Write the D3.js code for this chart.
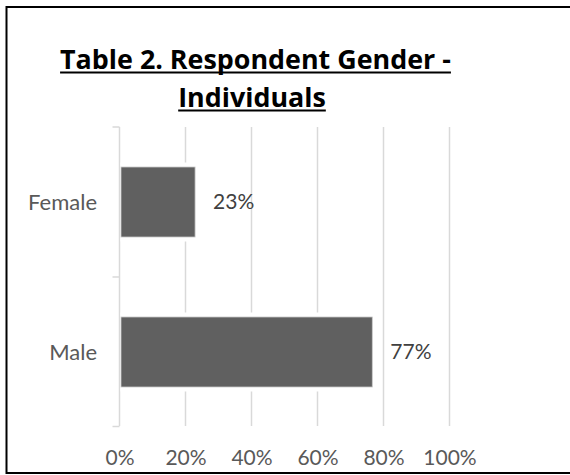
<!DOCTYPE html>
<html>
<head>
<meta charset="utf-8">
<script src="https://cdn.jsdelivr.net/npm/d3@7"></script>
<style>
  html, body { margin: 0; padding: 0; background: #fff; }
  svg { display: block; }
</style>
</head>
<body>
<svg id="chart" width="570" height="475"></svg>
<script>
// ---- data ----
const titleLines = ["Table 2. Respondent Gender -", "Individuals"];
const categories = ["Female", "Male"];
const values = [0.229, 0.766];
const xTicks = [0, 0.2, 0.4, 0.6, 0.8, 1.0];

// ---- layout ----
const W = 570, H = 475;
const svg = d3.select("#chart");
const FONT = "Lato, 'Open Sans', sans-serif";
const TFONT = "'Open Sans', Lato, sans-serif";

// outer border (right edge falls outside the canvas)
svg.append("rect")
  .attr("x", 6.5).attr("y", 7).attr("width", 600).attr("height", 466)
  .attr("fill", "none").attr("stroke", "#000").attr("stroke-width", 2);

const x = d3.scaleLinear().domain([0, 1]).range([119.5, 449.5]);
const y = d3.scaleBand().domain(categories).range([127, 427])
  .paddingInner(0.5333).paddingOuter(0.2667);

// gridlines
svg.append("g").selectAll("line").data(xTicks.slice(1)).join("line")
  .attr("x1", d => x(d)).attr("x2", d => x(d))
  .attr("y1", 127).attr("y2", 426)
  .attr("stroke", "#d9d9d9").attr("stroke-width", 1.5);

// category axis line with ticks
const yAxis = d3.axisLeft(y).tickSize(0).tickFormat("");
const gy = svg.append("g").attr("transform", "translate(119.5,0)").call(yAxis);
gy.select(".domain").remove();
gy.append("line").attr("x1", 0).attr("x2", 0).attr("y1", 127).attr("y2", 426)
  .attr("stroke", "#d9d9d9").attr("stroke-width", 1.5);
const step = y.step();
const boundaries = [127, 127 + step, 427 - 0.5];
gy.selectAll(".bnd").data(boundaries).join("line").attr("class", "bnd")
  .attr("x1", -7).attr("x2", 0).attr("y1", d => d).attr("y2", d => d)
  .attr("stroke", "#d9d9d9").attr("stroke-width", 1.5);

// bars: white halo behind, then bar
const bars = svg.append("g");
bars.selectAll("rect.halo").data(categories).join("rect").attr("class", "halo")
  .attr("x", x(0) + 1).attr("y", d => y(d) - 4.5)
  .attr("width", (d, i) => x(values[i]) - x(0) - 1)
  .attr("height", y.bandwidth() + 9)
  .attr("fill", "#fff");
bars.selectAll("rect.bar").data(categories).join("rect").attr("class", "bar")
  .attr("x", x(0) + 1.5).attr("y", d => y(d))
  .attr("width", (d, i) => x(values[i]) - x(0) - 1.5)
  .attr("height", y.bandwidth())
  .attr("fill", "#606060").attr("stroke", "#c8c8c8").attr("stroke-width", 0.8);

// data labels
const fmt = d3.format(".0%");
svg.append("g").selectAll("text").data(categories).join("text")
  .attr("x", (d, i) => x(values[i]) + 18)
  .attr("y", d => y(d) + y.bandwidth() / 2)
  .attr("dy", "0.35em")
  .attr("font-family", FONT).attr("font-size", 21).attr("fill", "#404040")
  .text((d, i) => fmt(values[i]));

// category labels
svg.append("g").selectAll("text").data(categories).join("text")
  .attr("x", 97).attr("y", d => y(d) + y.bandwidth() / 2)
  .attr("dy", "0.35em").attr("text-anchor", "end")
  .attr("font-family", FONT).attr("font-size", 22).attr("fill", "#595959")
  .text(d => d);

// x axis labels
const xAxis = d3.axisBottom(x).tickValues(xTicks).tickFormat(d3.format(".0%")).tickSize(0).tickPadding(0);
const gx = svg.append("g").attr("transform", "translate(0,458)").call(xAxis);
gx.select(".domain").remove();
gx.selectAll("text").attr("font-family", FONT).attr("font-size", 21)
  .attr("fill", "#595959").attr("dy", "0.35em").attr("y", 0);

// title with underline (font size fitted so the first line spans ~391px)
const tcx = [255.5, 252];
const tBase = [68.5, 106.5];
const probe = svg.append("text").attr("font-family", TFONT).attr("font-weight", "bold")
  .attr("font-size", 100).text(titleLines[0]);
const tSize = Math.min(30, 100 * 391 / probe.node().getComputedTextLength());
probe.remove();
titleLines.forEach((t, i) => {
  const tx = svg.append("text")
    .attr("x", tcx[i]).attr("y", tBase[i]).attr("text-anchor", "middle")
    .attr("font-family", TFONT).attr("font-weight", "bold").attr("font-size", tSize)
    .attr("fill", "#000").text(t);
  const w = tx.node().getComputedTextLength();
  svg.append("line")
    .attr("x1", tcx[i] - w / 2).attr("x2", tcx[i] + w / 2)
    .attr("y1", tBase[i] + 4).attr("y2", tBase[i] + 4)
    .attr("stroke", "#000").attr("stroke-width", 2);
});
</script>
</body>
</html>
